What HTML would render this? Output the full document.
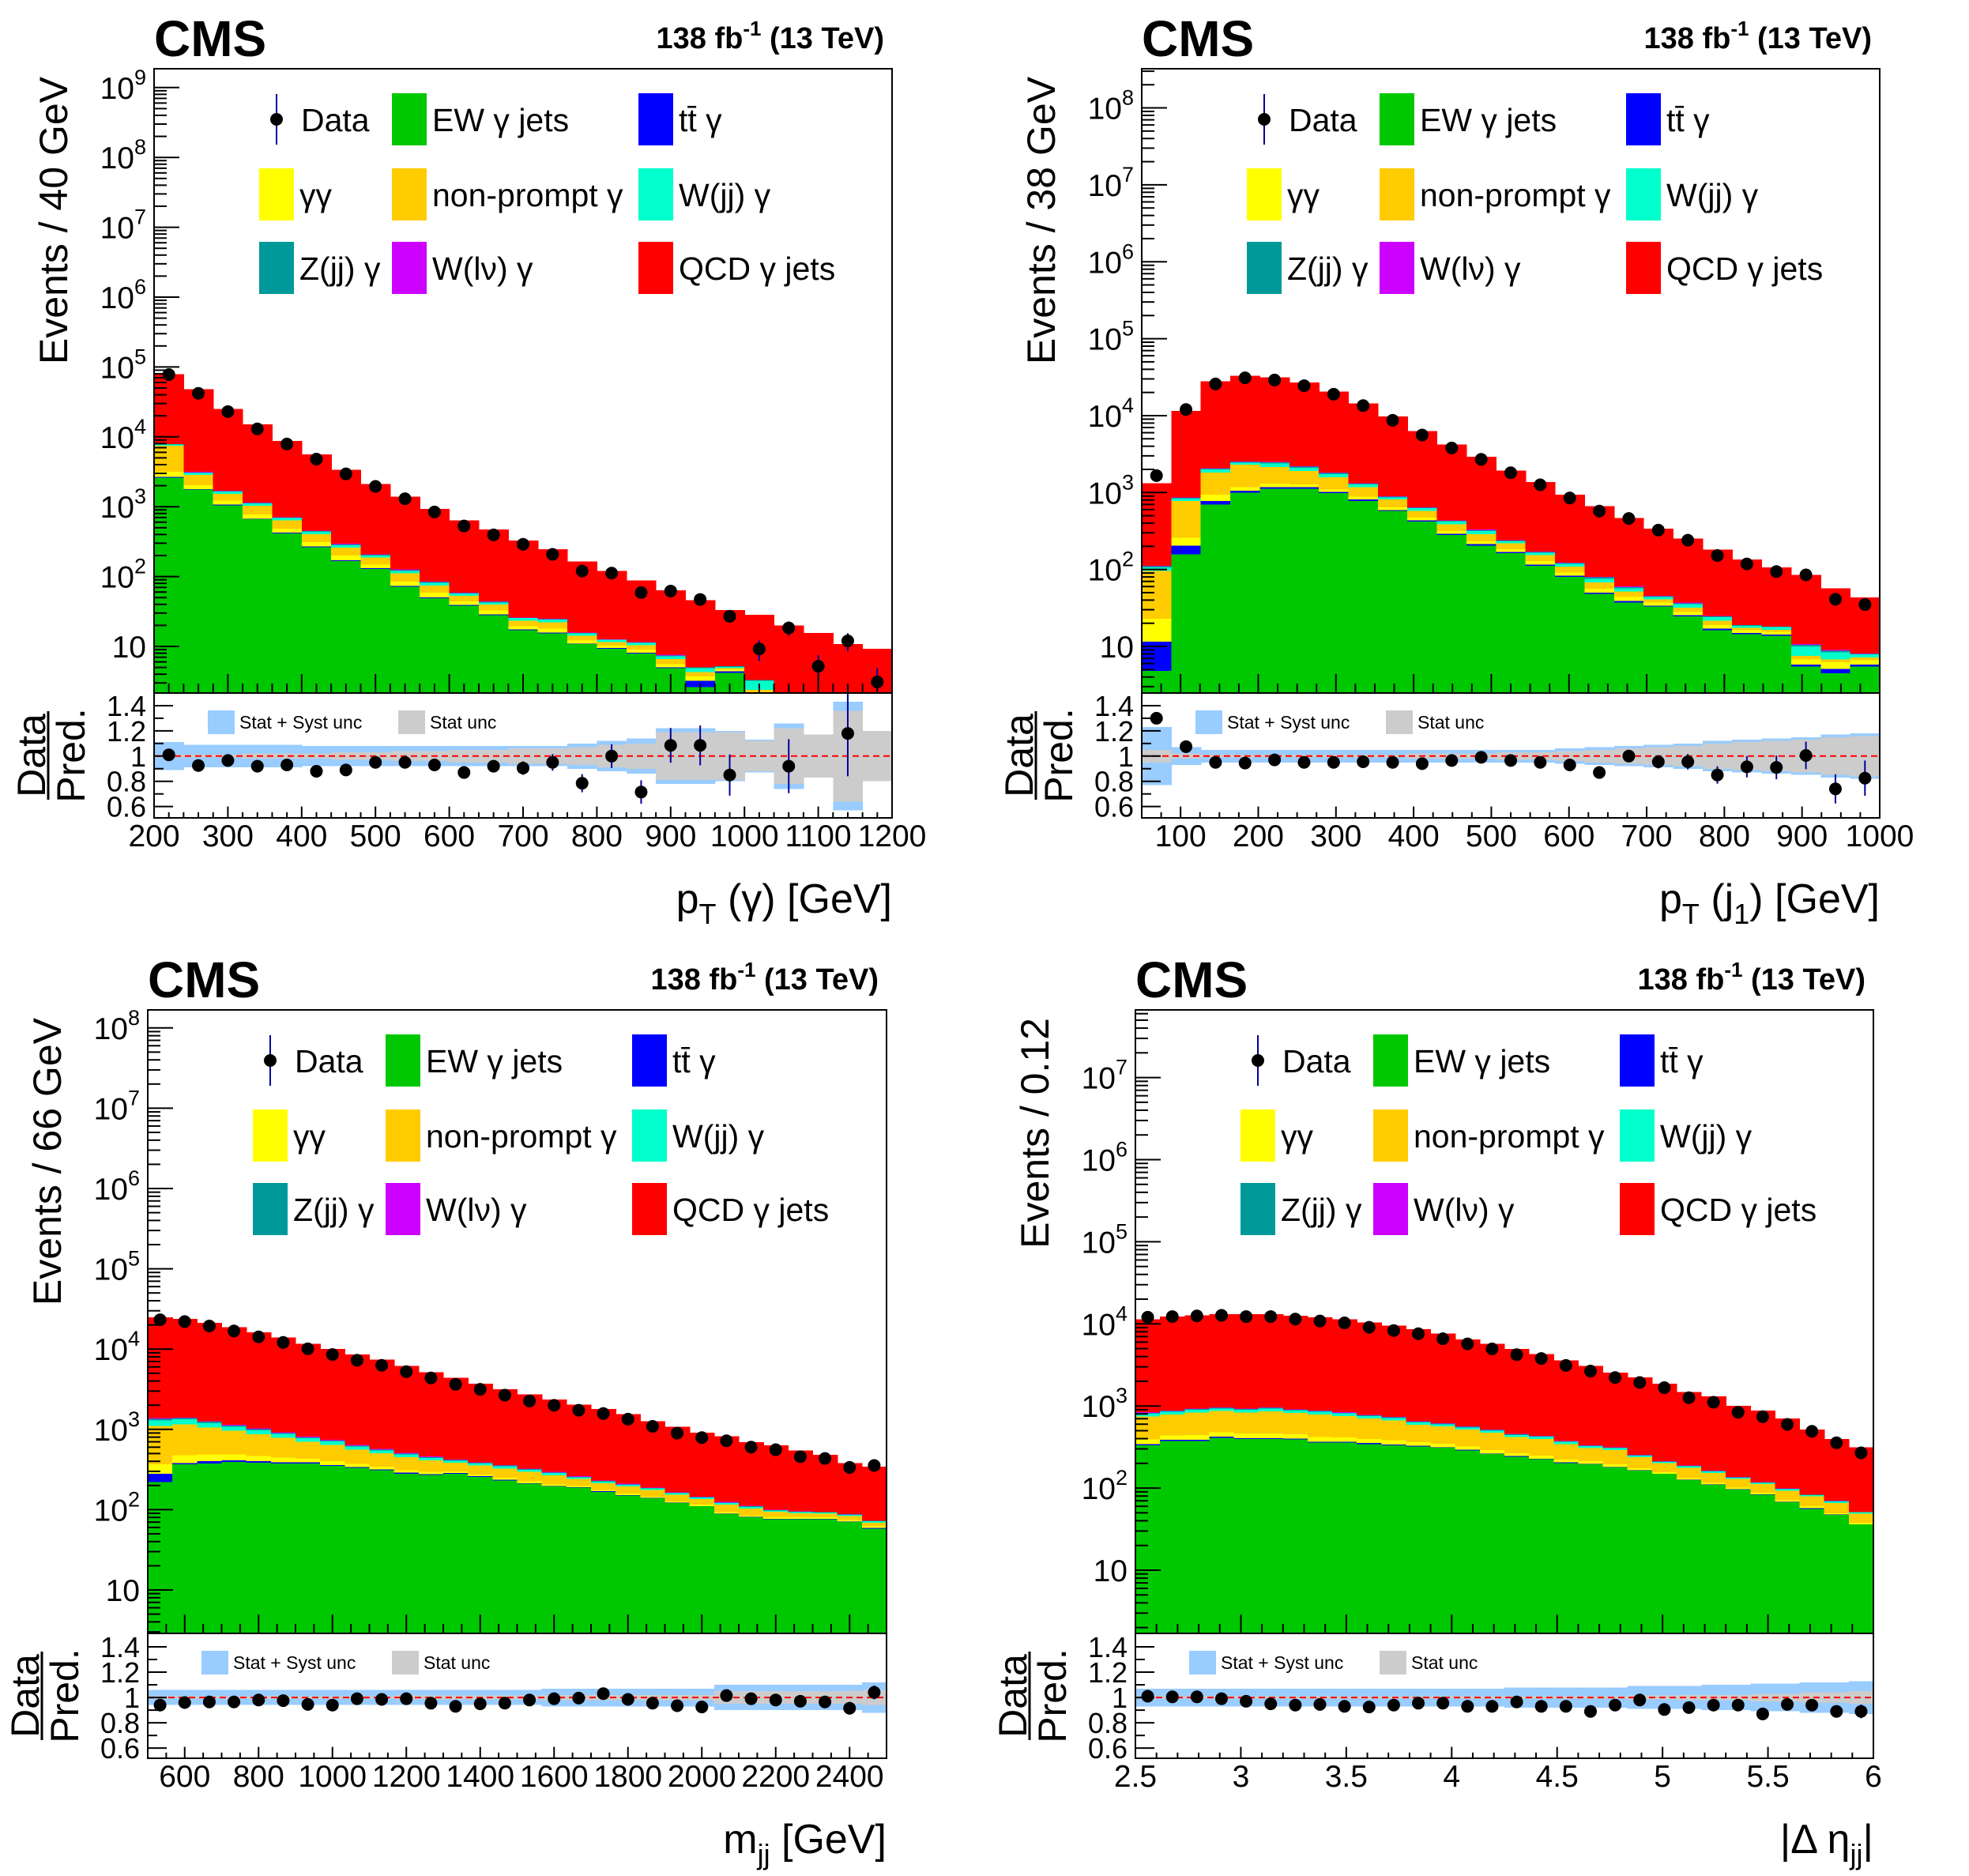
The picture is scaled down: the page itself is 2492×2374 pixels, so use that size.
<!DOCTYPE html>
<html><head><meta charset="utf-8"><title>CMS EW gamma jets control distributions</title>
<style>
html,body{margin:0;padding:0;background:#fff;}
svg{display:block;font-family:"Liberation Sans",Arial,sans-serif;}
</style></head>
<body>
<svg id="fig" xmlns="http://www.w3.org/2000/svg" width="2492" height="2374" viewBox="0 0 2492 2374">
<rect x="0" y="0" width="2492" height="2374" fill="#fff"/>
</svg>
<script>
// ---------- DATA ----------
const seriesNames = ['EW \u03b3 jets','t\u0074\u0304 \u03b3','\u03b3\u03b3','non-prompt \u03b3','W(jj) \u03b3','Z(jj) \u03b3','W(l\u03bd) \u03b3','QCD \u03b3 jets'];
const seriesColors = ['#00c800','#0000ff','#ffff00','#ffcc00','#00ffcc','#009999','#cc00ff','#ff0000'];
const ratioTicks = [0.6,0.8,1.0,1.2,1.4];
const ratioTickLabels = ['0.6','0.8','1','1.2','1.4'];

// Panel TL: pT(gamma), 200-1200, 40 GeV bins
const tlXTicks = [200,300,400,500,600,700,800,900,1000,1100,1200];
const tlData = [78000,42000,23000,13000,7900,4800,2950,1950,1300,840,530,395,290,208,120,112,59,62,47,27,9.2,18.4,5.2,12,3.1];
const tlRatio = [1.01,0.925,0.965,0.92,0.93,0.88,0.89,0.95,0.95,0.93,0.87,0.92,0.905,0.95,0.785,1.0,0.715,1.085,1.085,0.85,0.33,0.92,0.34,1.18,0.33];
const tlEW = [2600,1750,1050,660,415,262,166,128,71,49,38,28,17,15.4,10.8,9.3,7.9,4.9,2.6,4.2,1.5,0.5,0.5,0.5,0.5];
const tlTT = [60,40,25,15,10,8,5,3,2,1.5,1,0.7,0.4,0.4,0.2,0.2,0.2,0.1,0.6,0.2,0.1,0,0,0,0];
const tlGG = [500,250,150,100,60,40,28,18,12,8,5,4,2,2.2,1.2,0.8,0.9,0.6,0.5,0.3,0.5,0,0,0,0];
const tlNP = [4300,800,300,260,150,95,60,38,26,16,9,7,4,4,2,1.3,1.4,1,0.6,0.2,0.3,0,0,0,0];
const tlWJJ = [300,200,120,80,50,32,22,14,10,7,4,3,2,2.2,1.2,0.8,0.8,0.6,0.6,0.2,0.8,0,1.5,0,0];
const tlZJJ = [80,60,30,20,15,10,7,4,3,2,1,0.7,0.3,0.4,0.2,0.1,0.2,0.2,0.1,0.1,0.1,0,0,0,0];
const tlWLV = [60,60,25,15,10,10,7,4,2,1.5,1,0.6,0.3,0.4,0.2,0.1,0.1,0.2,0,0,0,0,0,0,0];
const tlQCD = [71000,44800,23300,13850,8000,5140,3100,1890,1270,845,580,426,304,221,149,107,76,56,41,28,25,19.5,13.5,10.3,8.8];
const tlSyst = [0.11,0.09,0.09,0.09,0.09,0.08,0.08,0.08,0.08,0.08,0.08,0.08,0.08,0.08,0.1,0.12,0.14,0.22,0.22,0.2,0.13,0.26,0.17,0.43,0.2];
const tlStat = [0.01,0.01,0.01,0.02,0.02,0.02,0.03,0.03,0.04,0.04,0.05,0.05,0.06,0.06,0.07,0.09,0.1,0.19,0.19,0.19,0.12,0.22,0.17,0.36,0.2];

// Panel TR: pT(j1), 50-1000, 38 GeV bins
const trXTicks = [100,200,300,400,500,600,700,800,900,1000];
const trData = [1660,12000,25800,31000,29000,24500,19000,13500,8700,5600,3800,2700,1810,1260,850,575,460,325,240,152,118,94,85,41,35];
const trRatio = [1.30,1.075,0.95,0.945,0.97,0.95,0.95,0.955,0.95,0.94,0.965,0.99,0.965,0.95,0.93,0.87,1.0,0.955,0.955,0.85,0.915,0.91,1.005,0.74,0.825];
const trEW = [4.8,158,700,1000,1120,1120,980,780,575,420,280,205,163,112,80,48,37,33,24.5,16.3,14.4,13.8,5.5,4.5,5.5];
const trTT = [6.7,47,80,60,60,50,40,30,20,15,10,8,5,4,3,2,2,1,1,0.7,0.5,0.5,0.3,0.6,0.3];
const trGG = [11.5,52,155,120,120,100,80,70,50,35,25,20,15,12,8,6,5,3,2.5,2,1.3,1.2,1.0,1.1,0.8];
const trNP = [73,520,880,1120,840,630,480,300,170,110,70,55,35,25,18,12,8,4,4,2.5,1.2,1.0,0.7,0.6,0.6];
const trWJJ = [10,60,180,150,240,200,160,100,50,45,35,28,15,12,10,8,5,3,3.5,2.5,1.2,1.3,2.5,1.6,0.7];
const trZJJ = [4,20,50,40,80,70,50,25,15,12,10,8,4,3,2,3,2,1,1,0.7,0.3,0.2,0.5,0.4,0.1];
const trWLV = [2,10,30,30,40,30,30,15,10,8,7,6,3,2,2,1,1,0.5,0.5,0.3,0.1,0.1,0.2,0.2,0.1];
const trQCD = [1208,10630,25900,30500,29000,24800,18700,13100,8900,5650,3760,2600,1680,1200,817,585,405,295,215,157,116,89,74,48,35];
const trSyst = [0.23,0.07,0.05,0.05,0.05,0.05,0.05,0.05,0.05,0.05,0.05,0.05,0.05,0.05,0.06,0.07,0.08,0.09,0.1,0.12,0.13,0.14,0.15,0.17,0.18];
const trStat = [0.05,0.02,0.01,0.01,0.01,0.01,0.01,0.01,0.01,0.02,0.02,0.02,0.03,0.03,0.04,0.05,0.06,0.07,0.08,0.1,0.11,0.12,0.13,0.15,0.16];

// Panel BL: mjj, 500-2500
const blXTicks = [600,800,1000,1200,1400,1600,1800,2000,2200,2400];
const blData = [23200,22000,19400,16800,14200,12100,10070,8550,7260,6280,5240,4370,3640,3150,2670,2260,1995,1730,1575,1340,1090,898,789,721,601,558,457,434,336,355];
const blRatio = [0.94,0.96,0.965,0.965,0.98,0.975,0.945,0.94,0.99,0.985,0.99,0.955,0.93,0.95,0.955,0.98,0.99,0.995,1.03,0.985,0.955,0.935,0.925,1.015,0.99,0.98,0.97,0.965,0.915,1.04];
const blEW = [221,368,375,392,383,375,375,350,330,310,281,270,281,257,232,210,194,188,167,150,138,121,110,88,80,76,76,76,70,58];
const blTT = [59,12,25,20,18,15,12,11,9,8,7,6,4,4,4,3,3,2,2,2,2,1,1,1,1,1,1,1,1,1];
const blGG = [88,94,90,75,65,55,45,40,31,26,23,19,14,13,13,12,10,7,6,6,5,4,4,4,3,3,3,3,3,3];
const blNP = [730,682,560,470,400,340,270,240,190,160,140,115,85,80,77,70,61,44,38,36,30,27,21,22,19,14,10,9,9,7];
const blWJJ = [200,180,150,125,110,90,72,65,52,44,38,32,24,23,22,19,17,12,11,10,8,7,6,6,5,4,3,3,3,3];
const blZJJ = [50,40,45,38,34,28,22,20,16,13,12,10,7,7,7,6,6,4,3,3,3,3,2,2,2,1,1,1,1,1];
const blWLV = [40,20,25,20,20,17,14,14,12,9,9,8,5,6,5,5,4,3,3,3,2,2,1,2,2,1,1,0,1,0];
const blQCD = [23600,22270,19930,17560,15170,13050,10830,9330,7910,6820,5660,4680,3950,3320,2790,2395,2055,1770,1560,1340,1082,915,769,694,583,535,453,390,293,269];
const blSyst = [0.06,0.06,0.06,0.06,0.06,0.06,0.06,0.06,0.06,0.06,0.06,0.06,0.06,0.06,0.06,0.06,0.07,0.07,0.07,0.07,0.07,0.07,0.07,0.1,0.1,0.1,0.1,0.1,0.1,0.12];
const blStat = [0.01,0.01,0.01,0.01,0.01,0.01,0.01,0.01,0.01,0.01,0.015,0.015,0.015,0.015,0.015,0.015,0.02,0.02,0.02,0.02,0.02,0.02,0.02,0.05,0.05,0.05,0.05,0.05,0.05,0.06];

// Panel BR: |delta eta jj|, 2.5-6
const brXTicks = [2.5,3,3.5,4,4.5,5,5.5,6];
const brData = [12050,12270,12500,12710,12270,12270,11430,10840,10280,9080,8300,7590,6590,5710,4950,4220,3790,3120,2660,2220,1930,1670,1260,1110,838,740,597,491,356,269];
const brRatio = [1.01,1.005,1.005,0.99,0.97,0.95,0.94,0.945,0.93,0.925,0.94,0.955,0.955,0.93,0.93,0.965,0.93,0.93,0.89,0.94,0.98,0.905,0.92,0.94,0.94,0.87,0.945,0.94,0.89,0.89];
const brEW = [332,376,376,411,396,396,391,357,357,344,332,321,309,288,259,241,224,202,195,178,163,149,125,110,96,83,67,56,47,36];
const brTT = [10,10,11,11,11,11,10,10,10,9,8,7,6,6,5,4,4,3,3,3,2,1,1,1,1,1,1,1,0.5,0.3];
const brGG = [50,50,55,55,53,57,52,53,48,44,41,33,31,28,26,22,21,17,14,14,9,6,6,5,4,4,3,3,2,1.5];
const brNP = [355,355,390,390,375,400,366,368,337,305,285,232,217,194,181,151,147,122,96,96,64,45,44,37,28,24,22,19,16,11];
const brWJJ = [60,61,67,67,64,68,63,63,58,52,49,40,37,33,31,26,25,21,16,16,11,8,8,6,5,4,4,3,3,2];
const brZJJ = [16,16,16,16,16,17,16,16,14,13,12,10,9,8,8,7,7,5,4,4,3,2,2,2,1,1,1,1,1,0.2];
const brWLV = [15,15,16,16,16,17,16,16,14,13,13,10,10,9,8,6,6,6,4,4,2,2,2,2,1,1,1,0,0.5,0];
const brQCD = [10590,11390,11780,12210,12250,12210,11590,11170,10590,9660,8830,7950,6970,5900,5190,4490,3870,3220,2730,2245,1966,1647,1292,1143,864,765,602,435,326,264];
const brSyst = [0.07,0.07,0.07,0.07,0.07,0.07,0.07,0.07,0.07,0.07,0.07,0.07,0.07,0.07,0.07,0.08,0.08,0.08,0.08,0.08,0.09,0.09,0.09,0.1,0.1,0.11,0.11,0.12,0.12,0.13];
const brStat = [0.01,0.01,0.01,0.01,0.01,0.01,0.01,0.01,0.01,0.01,0.01,0.01,0.01,0.01,0.01,0.01,0.01,0.01,0.01,0.01,0.015,0.015,0.02,0.02,0.02,0.03,0.03,0.04,0.04,0.05];

// ---------- RENDERING ----------
const NS = 'http://www.w3.org/2000/svg';
const svg = document.getElementById('fig');
function mk(tag, attrs, parent) {
  const el = document.createElementNS(NS, tag);
  for (const k in attrs) el.setAttribute(k, attrs[k]);
  (parent || svg).appendChild(el);
  return el;
}
function fmtX(v) { return String(v); }

function drawPanel(p) {
  const g = mk('g', {});
  
  
  const F = p.frame;
  const nb = p.data.length;
  const bw = (p.xmax - p.xmin) / nb;
  const xs = v => F.L + (v - p.xmin) / (p.xmax - p.xmin) * (F.R - F.L);
  const lmin = 1 - (F.MB - p.y10) / p.perDec;
  const ys = v => { if (v <= 0) return F.MB; const y = p.y10 - (Math.log10(v) - 1) * p.perDec; return Math.min(F.MB, Math.max(F.T, y)); };
  const rys = r => { const y = F.MB + (p.rTop - r) / (p.rTop - p.rBot) * (F.RB - F.MB); return Math.min(F.RB, Math.max(F.MB, y)); };

  const hist = mk('g', {'shape-rendering': 'crispEdges'}, g);
  
  
  for (let i = 0; i < nb; i++) {
    const x0 = xs(p.xmin + i * bw), x1 = xs(p.xmin + (i + 1) * bw);
    let cum = 0;
    p.series.forEach((arr, s) => {
      const lo = cum, hi = cum + arr[i];
      cum = hi;
      if (arr[i] <= 0) return;
      const y1 = ys(hi), y0 = lo <= 0 ? F.MB : ys(lo);
      if (y0 - y1 <= 0.01) return;
      const r = mk('rect', {x: x0, y: y1, width: x1 - x0 + 0.6, height: y0 - y1, fill: seriesColors[s]}, hist);
      
      
    });
  }
  const dg = mk('g', {}, g);
  
  
  for (let i = 0; i < nb; i++) {
    const v = p.data[i];
    const cx = xs(p.xmin + (i + 0.5) * bw);
    const e = Math.sqrt(v);
    const l = mk('line', {x1: cx, x2: cx, y1: ys(v + e), y2: ys(Math.max(v - e, 1e-3)), stroke: '#000099', 'stroke-width': 2}, dg);
    
    
    const c = mk('circle', {cx: cx, cy: ys(v), r: 8, fill: '#000'}, dg);
    
    
  }
  const rg = mk('g', {'shape-rendering': 'crispEdges'}, g);
  
  
  for (let i = 0; i < nb; i++) {
    const x0 = xs(p.xmin + i * bw), x1 = xs(p.xmin + (i + 1) * bw);
    const b = mk('rect', {x: x0, y: rys(1 + p.syst[i]), width: x1 - x0 + 0.6, height: rys(1 - p.syst[i]) - rys(1 + p.syst[i]), fill: '#99ccff'}, rg);
    
    
    const s = mk('rect', {x: x0, y: rys(1 + p.stat[i]), width: x1 - x0 + 0.6, height: rys(1 - p.stat[i]) - rys(1 + p.stat[i]), fill: '#cccccc'}, rg);
    
    
  }
  const ref = mk('line', {x1: F.L, x2: F.R, y1: rys(1), y2: rys(1), stroke: '#ff0000', 'stroke-width': 2, 'stroke-dasharray': '8,5'}, g);
  
  
  const rp = mk('g', {}, g);
  
  
  for (let i = 0; i < nb; i++) {
    const r = p.ratio[i];
    if (r < p.rBot || r > p.rTop) continue;
    const cx = xs(p.xmin + (i + 0.5) * bw);
    const e = r / Math.sqrt(p.data[i]);
    const l = mk('line', {x1: cx, x2: cx, y1: rys(r + e), y2: rys(r - e), stroke: '#000099', 'stroke-width': 2}, rp);
    
    
    const c = mk('circle', {cx: cx, cy: rys(r), r: 8, fill: '#000'}, rp);
    
    
  }

  const f1 = mk('rect', {x: F.L, y: F.T, width: F.R - F.L, height: F.MB - F.T, fill: 'none', stroke: '#000', 'stroke-width': 2}, g);
  
  
  const f2 = mk('rect', {x: F.L, y: F.MB, width: F.R - F.L, height: F.RB - F.MB, fill: 'none', stroke: '#000', 'stroke-width': 2}, g);
  
  

  const tg = mk('g', {stroke: '#000', 'stroke-width': 2}, g);
  
  
  const lg = mk('g', {'font-size': 39, 'text-anchor': 'end', fill: '#000'}, g);
  
  
  for (let d = 0; d <= p.maxExp + 1; d++) {
    for (let m = 1; m <= 9; m++) {
      const v = m * Math.pow(10, d);
      const lv = Math.log10(v);
      if (lv < lmin) continue;
      const y = p.y10 - (lv - 1) * p.perDec;
      if (y < F.T) continue;
      const len = m === 1 ? 32 : 16;
      mk('line', {x1: F.L, x2: F.L + len, y1: y, y2: y}, tg);
      if (m === 1 && d >= 1) {
        const t = mk('text', {x: F.L - 10, y: y + 14}, lg);
        
        
        if (d === 1) { t.textContent = '10'; }
        else {
          const a = mk('tspan', {}, t); a.textContent = '10';
          const b = mk('tspan', {dy: -18, 'font-size': 27}, t); b.textContent = String(d);
        }
      }
    }
  }
  const xg = mk('g', {stroke: '#000', 'stroke-width': 2}, g);
  
  
  const nMinor = Math.round((p.xmax - p.xmin) / p.minor);
  for (let k = 0; k <= nMinor; k++) {
    const v = p.xmin + k * p.minor;
    const major = p.xticks.some(t => Math.abs(t - v) < p.minor * 0.01);
    const x = xs(v);
    const len = major ? 24 : 12;
    mk('line', {x1: x, x2: x, y1: F.MB, y2: F.MB - len}, xg);
    mk('line', {x1: x, x2: x, y1: F.RB, y2: F.RB - len * 0.6}, xg);
  }
  const xl = mk('g', {'font-size': 39, 'text-anchor': 'middle', fill: '#000'}, g);
  
  
  p.xticks.forEach(v => {
    const t = mk('text', {x: xs(v), y: F.RB + 36}, xl);
    
    
    t.textContent = fmtX(v);
  });
  const rl = mk('g', {'font-size': 36, 'text-anchor': 'end', fill: '#000'}, g);
  
  
  for (let r = 0.6; r <= 1.41; r += 0.1) {
    const y = rys(r);
    const major = Math.abs(Math.round(r * 5) - r * 5) < 0.01;
    mk('line', {x1: F.L, x2: F.L + (major ? 24 : 12), y1: y, y2: y}, xg);
  }
  ratioTicks.forEach((r, k) => {
    const t = mk('text', {x: F.L - 10, y: rys(r) + 13}, rl);
    
    
    t.textContent = ratioTickLabels[k];
  });

  const cms = mk('text', {x: F.L, y: F.T - 16, 'font-size': 64, 'font-weight': 'bold'}, g);
  
  
  cms.textContent = 'CMS';
  const lumi = mk('text', {x: F.R - 10, y: F.T - 26, 'font-size': 38, 'font-weight': 'bold', 'text-anchor': 'end'}, g);
  
  
  const la = mk('tspan', {}, lumi); la.textContent = '138 fb';
  const lb = mk('tspan', {dy: -16, 'font-size': 26}, lumi); lb.textContent = '-1';
  const lc = mk('tspan', {dy: 16}, lumi); lc.textContent = ' (13 TeV)';

  const yt = mk('text', {transform: 'translate(' + (F.L - 110) + ',' + (F.T + 10) + ') rotate(-90)', 'font-size': 50, 'text-anchor': 'end'}, g);
  
  
  yt.textContent = p.ytitle;
  const cy = (F.MB + F.RB) / 2;
  const rd = mk('text', {transform: 'translate(' + (F.L - 138) + ',' + cy + ') rotate(-90)', 'font-size': 50, 'text-anchor': 'middle'}, g);
  
  
  rd.textContent = 'Data';
  const rline = mk('line', {x1: F.L - 134, x2: F.L - 134, y1: cy - 56, y2: cy + 56, stroke: '#000', 'stroke-width': 3}, g);
  
  
  const rpd = mk('text', {transform: 'translate(' + (F.L - 88) + ',' + cy + ') rotate(-90)', 'font-size': 50, 'text-anchor': 'middle'}, g);
  
  
  rpd.textContent = 'Pred.';
  const xt = mk('text', {x: F.R, y: F.RB + 120, 'font-size': 52, 'text-anchor': 'end'}, g);
  
  
  p.xtitle.forEach(part => {
    const ts = mk('tspan', {}, xt);
    if (part[1]) { ts.setAttribute('dy', part[1]); }
    if (part[2]) { ts.setAttribute('font-size', part[2]); }
    ts.textContent = part[0];
  });

  const leg = mk('g', {'font-size': 41}, g);
  
  
  const rows = [F.T + 64, F.T + 159, F.T + 252];
  const cols = [[133, 184], [301, 352], [613, 664]];
  const entries = [[-1, 0, 0], [0, 1, 0], [1, 2, 0], [2, 0, 1], [3, 1, 1], [4, 2, 1], [5, 0, 2], [6, 1, 2], [7, 2, 2]];
  entries.forEach(en => {
    const [s, c, r] = en;
    const y = rows[r];
    const eg = mk('g', {}, leg);
    
    
    if (s < 0) {
      mk('line', {x1: F.L + 155, x2: F.L + 155, y1: y - 32, y2: y + 32, stroke: '#000099', 'stroke-width': 2}, eg);
      mk('circle', {cx: F.L + 155, cy: y, r: 8, fill: '#000'}, eg);
      const t = mk('text', {x: F.L + cols[c][1] + 2, y: y + 15}, eg);
      t.textContent = 'Data';
    } else {
      mk('rect', {x: F.L + cols[c][0], y: y - 33, width: 44, height: 66, fill: seriesColors[s]}, eg);
      const t = mk('text', {x: F.L + cols[c][1], y: y + 15}, eg);
      t.textContent = seriesNames[s];
    }
  });
  const rlg = mk('g', {'font-size': 23}, g);
  
  
  mk('rect', {x: F.L + 68, y: F.MB + 22, width: 34, height: 30, fill: '#99ccff'}, rlg);
  const t1 = mk('text', {x: F.L + 108, y: F.MB + 45}, rlg); t1.textContent = 'Stat + Syst unc';
  mk('rect', {x: F.L + 309, y: F.MB + 22, width: 34, height: 30, fill: '#cccccc'}, rlg);
  const t2 = mk('text', {x: F.L + 349, y: F.MB + 45}, rlg); t2.textContent = 'Stat unc';
}

drawPanel({id: 'pt-photon', frame: {L: 195, R: 1129, T: 87, MB: 877, RB: 1035}, y10: 818, perDec: 88.4, maxExp: 9,
  xmin: 200, xmax: 1200, minor: 20, xticks: tlXTicks, rTop: 1.5, rBot: 0.51,
  data: tlData, ratio: tlRatio, syst: tlSyst, stat: tlStat,
  series: [tlEW, tlTT, tlGG, tlNP, tlWJJ, tlZJJ, tlWLV, tlQCD],
  ytitle: 'Events / 40 GeV', xtitle: [['p'], ['T', 14, 36], [' (\u03b3) [GeV]', -14, 52]]});
drawPanel({id: 'pt-jet1', frame: {L: 1445, R: 2379, T: 87, MB: 877, RB: 1035}, y10: 818, perDec: 97.35, maxExp: 8,
  xmin: 50, xmax: 1000, minor: 25, xticks: trXTicks, rTop: 1.5, rBot: 0.51,
  data: trData, ratio: trRatio, syst: trSyst, stat: trStat,
  series: [trEW, trTT, trGG, trNP, trWJJ, trZJJ, trWLV, trQCD],
  ytitle: 'Events / 38 GeV', xtitle: [['p'], ['T', 14, 36], [' (j', -14, 52], ['1', 14, 36], [') [GeV]', -14, 52]]});
drawPanel({id: 'mjj', frame: {L: 187, R: 1122, T: 1278, MB: 2067, RB: 2225}, y10: 2012, perDec: 101.6, maxExp: 8,
  xmin: 500, xmax: 2500, minor: 50, xticks: blXTicks, rTop: 1.506, rBot: 0.52,
  data: blData, ratio: blRatio, syst: blSyst, stat: blStat,
  series: [blEW, blTT, blGG, blNP, blWJJ, blZJJ, blWLV, blQCD],
  ytitle: 'Events / 66 GeV', xtitle: [['m'], ['jj', 14, 36], [' [GeV]', -14, 52]]});
drawPanel({id: 'deta-jj', frame: {L: 1437, R: 2371, T: 1278, MB: 2067, RB: 2225}, y10: 1987, perDec: 103.9, maxExp: 7,
  xmin: 2.5, xmax: 6, minor: 0.1, xticks: brXTicks, rTop: 1.506, rBot: 0.52,
  data: brData, ratio: brRatio, syst: brSyst, stat: brStat,
  series: [brEW, brTT, brGG, brNP, brWJJ, brZJJ, brWLV, brQCD],
  ytitle: 'Events / 0.12', xtitle: [['|\u0394 \u03b7'], ['jj', 14, 36], ['|', -14, 52]]});
</script>
</body></html>
